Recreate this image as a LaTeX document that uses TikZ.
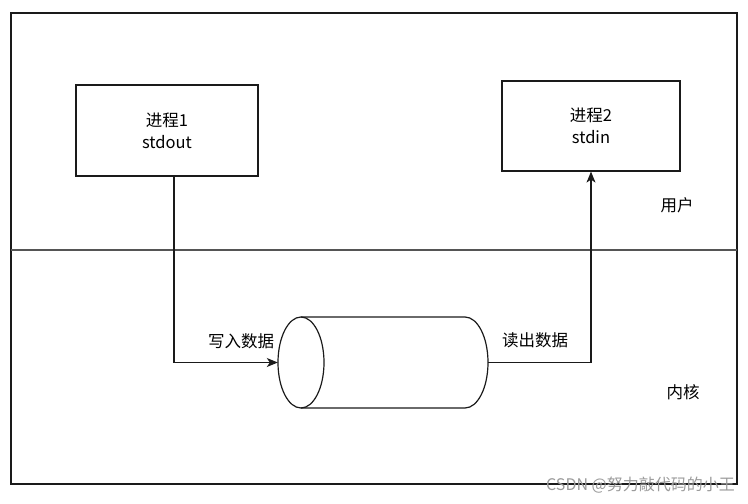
\documentclass[tikz,border=0pt]{standalone}
\usepackage{fontspec}
\setmainfont{Noto Sans CJK SC}
\usepackage{tikz}
\usetikzlibrary{arrows.meta}
\definecolor{cLine}{HTML}{1A1A1A}
\definecolor{cSplit}{HTML}{555555}
\definecolor{cMark}{HTML}{9A9A9A}
\tikzset{
  proc/.style={draw=cLine, line width=1.2pt, align=center, font=\fontsize{16.5}{22}\selectfont,
               minimum width=182pt, minimum height=91pt, inner sep=0pt},
  pipe/.style={minimum width=210pt, minimum height=91pt, inner sep=0pt},
  ar/.style={-{Stealth[length=11pt, width=9pt, inset=3pt]}, line width=1.2pt, cLine},
  lbl/.style={font=\fontsize{16.5}{20}\selectfont, inner sep=1pt},
}

\begin{document}
\begin{tikzpicture}[x=1pt, y=-1pt]
    \useasboundingbox (0,0) rectangle (748,504);
    % frame and user/kernel split
    \draw[line width=1.4pt, cLine] (11,13) rectangle (737,484);
    \draw[line width=1.4pt, cSplit] (11,250) -- (737,250);

    \node[proc] (p1) at (167,130.5) {进程1\\stdout};
    \node[proc, minimum width=178pt, minimum height=90pt] (p2) at (591,126) {进程2\\stdin};

    % pipe buffer as a lying cylinder
    \node[pipe] (buf) at (383,362.5) {};
    \draw[line width=1.2pt, cLine] (301,362.5) ellipse [x radius=23, y radius=45.5];
    \draw[line width=1.2pt, cLine] (301,317) -- (465,317)
      arc[start angle=90, end angle=-90, x radius=23, y radius=-45.5] -- (301,408);

    \draw[ar] ([xshift=7pt]p1.south) |- (buf.west);
    \draw[ar] (buf.east) -| (p2.south);

    \node[lbl] (wr) at (241,341) {写入数据};
    \node[lbl] (rd) at (535,340) {读出数据};
    \node[lbl] (usr) at (677,205) {用户};
    \node[lbl] (krn) at (683,392) {内核};
    \node[font=\fontsize{16}{18}\selectfont, text=cMark, anchor=east, inner sep=0pt] (wm) at (735,485) {CSDN @努力敲代码的小王};
  \end{tikzpicture}
\end{document}
